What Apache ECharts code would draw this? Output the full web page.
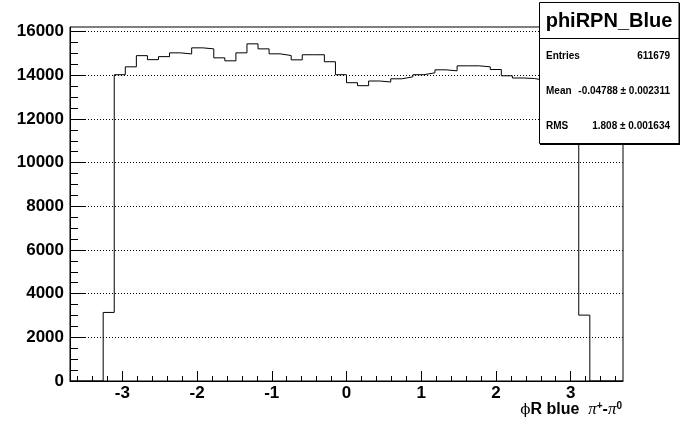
<!DOCTYPE html>
<html><head><meta charset="utf-8">
<script src="https://cdn.jsdelivr.net/npm/echarts@6/dist/echarts.min.js"></script>
<style>html,body{margin:0;padding:0;background:#fff}#c{width:692px;height:444px}</style>
</head><body><div id="c"></div>
<script>
// Histogram definition (ROOT TH1: 50 bins from -3.7 to 3.7)
const histMin = -3.7;
const histMax = 3.7;
const nBins = 50;
const counts = [
  0, 0, 0, 3140, 14025, 14386, 14898, 14715, 14853, 15026,
  14976, 15255, 15209, 14798, 14661, 15026, 15438, 15209, 14981, 14903,
  14706, 14939, 14939, 14619, 14025, 13659, 13522, 13737, 13691, 13838,
  13929, 14025, 14112, 14249, 14203, 14432, 14432, 14386, 14263, 13975,
  13874, 13851, 13760, 13650, 13600, 13550, 3017, 0, 0, 0
];
const yMax = 16210;
const xMajorTicks = [-3, -2, -1, 0, 1, 2, 3];
const xMinorTicks = [-3.6,-3.4,-3.2,-2.8,-2.6,-2.4,-2.2,-1.8,-1.6,-1.4,-1.2,-0.8,-0.6,-0.4,-0.2,0.2,0.4,0.6,0.8,1.2,1.4,1.6,1.8,2.2,2.4,2.6,2.8,3.2,3.4,3.6];
const yMajorTicks = [0, 2000, 4000, 6000, 8000, 10000, 12000, 14000, 16000];
const yMinorTicks = [500,1000,1500,2500,3000,3500,4500,5000,5500,6500,7000,7500,8500,9000,9500,10500,11000,11500,12500,13000,13500,14500,15000,15500];
const statsTitle = 'phiRPN_Blue';
const statsLabels = ['Entries', 'Mean', 'RMS'];
const statsValues = ['611679', '-0.04788 \u00b1 0.002311', '1.808 \u00b1 0.001634'];

const binW = (histMax - histMin) / nBins;
const stepData = [[histMin, 0]];
for (let i = 0; i < nBins; i++) stepData.push([histMin + (i + 1) * binW, counts[i]]);
stepData.push([histMax, 0]);

const FONT = '"Liberation Sans", Arial, Helvetica, sans-serif';
const chart = echarts.init(document.getElementById('c'), null, {renderer: 'canvas'});

const statsGraphics = [
  {type: 'rect', shape: {x: 539.5, y: 2.5, width: 139.5, height: 141}, style: {fill: '#fff', stroke: '#000', lineWidth: 1}, z: 100},
  {type: 'line', shape: {x1: 540, y1: 144.5, x2: 680, y2: 144.5}, style: {stroke: '#000', lineWidth: 1}, z: 101},
  {type: 'line', shape: {x1: 679.5, y1: 3, x2: 679.5, y2: 145}, style: {stroke: '#000', lineWidth: 1}, z: 101},
  {type: 'line', shape: {x1: 539.5, y1: 38.5, x2: 679, y2: 38.5}, style: {stroke: '#000', lineWidth: 1}, z: 101},
  {type: 'text', x: 609, y: 21, style: {text: statsTitle, font: 'bold 20px ' + FONT, fill: '#000', textAlign: 'center', textVerticalAlign: 'middle'}, z: 102}
];
const rowY = [56, 91, 126];
statsLabels.forEach((lab, i) => {
  statsGraphics.push({type: 'text', x: 546, y: rowY[i], style: {text: lab, font: 'bold 10px ' + FONT, fill: '#000', textAlign: 'left', textVerticalAlign: 'middle'}, z: 102});
  statsGraphics.push({type: 'text', x: 670, y: rowY[i], style: {text: statsValues[i], font: 'bold 10px ' + FONT, fill: '#000', textAlign: 'right', textVerticalAlign: 'middle'}, z: 102});
});

const titleGraphic = {
  type: 'text', x: 622, y: 410, z: 102,
  style: {
    text: '{phi|\u03d5}{b|R blue  }{pi|\u03c0}{sup|+}{b|-}{pi|\u03c0}{sup|0}',
    textAlign: 'right', textVerticalAlign: 'middle', fill: '#000',
    rich: {
      phi: {fontFamily: '"DejaVu Serif", serif', fontSize: 15, fill: '#000', lineHeight: 18},
      b: {fontFamily: FONT, fontWeight: 'bold', fontSize: 16, fill: '#000', lineHeight: 18},
      pi: {fontFamily: '"Liberation Serif", serif', fontStyle: 'italic', fontSize: 17, fill: '#000', lineHeight: 18},
      sup: {fontFamily: FONT, fontWeight: 'bold', fontSize: 10, fill: '#000', lineHeight: 10, verticalAlign: 'top'}
    }
  }
};

const option = {
  animation: false,
  backgroundColor: '#fff',
  grid: {left: 70, top: 27, width: 553, height: 354, show: true, borderColor: '#000', borderWidth: 1, backgroundColor: 'transparent', containLabel: false},
  xAxis: [
    {
      type: 'value', min: histMin, max: histMax, position: 'bottom',
      axisLine: {show: true, onZero: false, lineStyle: {color: '#000', width: 1}},
      axisTick: {show: true, inside: true, length: 10, customValues: xMajorTicks, lineStyle: {color: '#000', width: 1}},
      axisLabel: {show: true, customValues: xMajorTicks, margin: 4, color: '#000', fontFamily: FONT, fontWeight: 'bold', fontSize: 17, formatter: v => String(v)},
      splitLine: {show: false}
    },
    {
      type: 'value', min: histMin, max: histMax, position: 'bottom',
      axisLine: {show: false, onZero: false},
      axisTick: {show: true, inside: true, length: 5, customValues: xMinorTicks, lineStyle: {color: '#000', width: 1}},
      axisLabel: {show: false},
      splitLine: {show: false}
    }
  ],
  yAxis: [
    {
      type: 'value', min: 0, max: yMax, interval: 2000, position: 'left',
      axisLine: {show: true, onZero: false, lineStyle: {color: '#000', width: 1}},
      axisTick: {show: true, inside: true, length: 15, customValues: yMajorTicks, lineStyle: {color: '#000', width: 1}},
      axisLabel: {show: true, customValues: yMajorTicks, margin: 6, color: '#000', fontFamily: FONT, fontWeight: 'bold', fontSize: 17, formatter: v => String(v)},
      splitLine: {show: true, lineStyle: {color: '#000', width: 1, type: [1, 2]}}
    },
    {
      type: 'value', min: 0, max: yMax, position: 'left',
      axisLine: {show: false, onZero: false},
      axisTick: {show: true, inside: true, length: 8, customValues: yMinorTicks, lineStyle: {color: '#000', width: 1}},
      axisLabel: {show: false},
      splitLine: {show: false}
    }
  ],
  series: [{
    type: 'line', xAxisIndex: 0, yAxisIndex: 0, step: 'start', data: stepData,
    showSymbol: false, symbol: 'none', clip: true,
    lineStyle: {color: '#000', width: 1}, z: 5, silent: true
  }],
  graphic: [titleGraphic].concat(statsGraphics)
};
chart.setOption(option);
</script>
</body></html>
